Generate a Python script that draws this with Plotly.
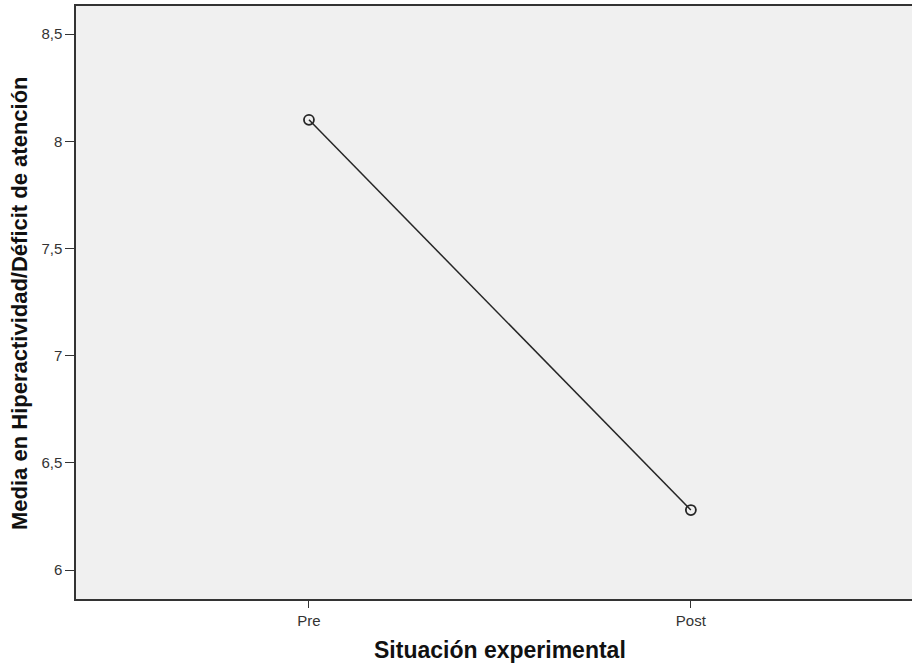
import plotly.graph_objects as go

# Mean hyperactivity / attention-deficit score by experimental condition
conditions = ["Pre", "Post"]
means = [8.10, 6.28]

y_ticks = [6, 6.5, 7, 7.5, 8, 8.5]
y_tick_labels = ["6", "6,5", "7", "7,5", "8", "8,5"]

x_pos = list(range(len(conditions)))

axis_color = "#333333"
font_family = "Liberation Sans, Arial, sans-serif"

fig = go.Figure()
fig.add_trace(
    go.Scatter(
        x=x_pos,
        y=means,
        mode="lines+markers",
        line=dict(color="#262626", width=1.5),
        marker=dict(
            symbol="circle-open",
            size=10,
            color="#262626",
            line=dict(width=1.8, color="#262626"),
        ),
        showlegend=False,
        hoverinfo="x+y",
    )
)

fig.update_layout(
    width=912,
    height=666,
    margin=dict(l=76, r=0, t=6, b=67),
    paper_bgcolor="white",
    plot_bgcolor="#f0f0f0",
    separators=",.",
    font=dict(family=font_family, color="#333333"),
    xaxis=dict(
        range=[-0.610, 1.579],
        tickmode="array",
        tickvals=x_pos,
        ticktext=conditions,
        ticks="outside",
        ticklen=7,
        tickwidth=1.2,
        tickcolor=axis_color,
        tickfont=dict(size=15, color="#333333"),
        showgrid=False,
        zeroline=False,
        showline=True,
        linecolor=axis_color,
        linewidth=1.5,
        mirror=True,
    ),
    yaxis=dict(
        range=[5.865, 8.631],
        tickmode="array",
        tickvals=y_ticks,
        ticktext=y_tick_labels,
        ticks="outside",
        ticklen=9,
        tickwidth=1.2,
        tickcolor=axis_color,
        tickfont=dict(size=15, color="#333333"),
        showgrid=False,
        zeroline=False,
        showline=True,
        linecolor=axis_color,
        linewidth=1.5,
    ),
    annotations=[
        dict(
            text="<b>Situación experimental</b>",
            xref="paper",
            yref="paper",
            x=(500 - 76) / 836,
            y=(599 - 650) / 593,
            xanchor="center",
            yanchor="middle",
            showarrow=False,
            font=dict(size=23, color="#111111", family=font_family),
        ),
        dict(
            text="<b>Media en Hiperactividad/Déficit de atención</b>",
            xref="paper",
            yref="paper",
            x=(19 - 76) / 836,
            y=(599 - 303) / 593,
            xanchor="center",
            yanchor="middle",
            textangle=-90,
            showarrow=False,
            font=dict(size=22, color="#111111", family=font_family),
        ),
    ],
)

fig.write_html("out.html")
